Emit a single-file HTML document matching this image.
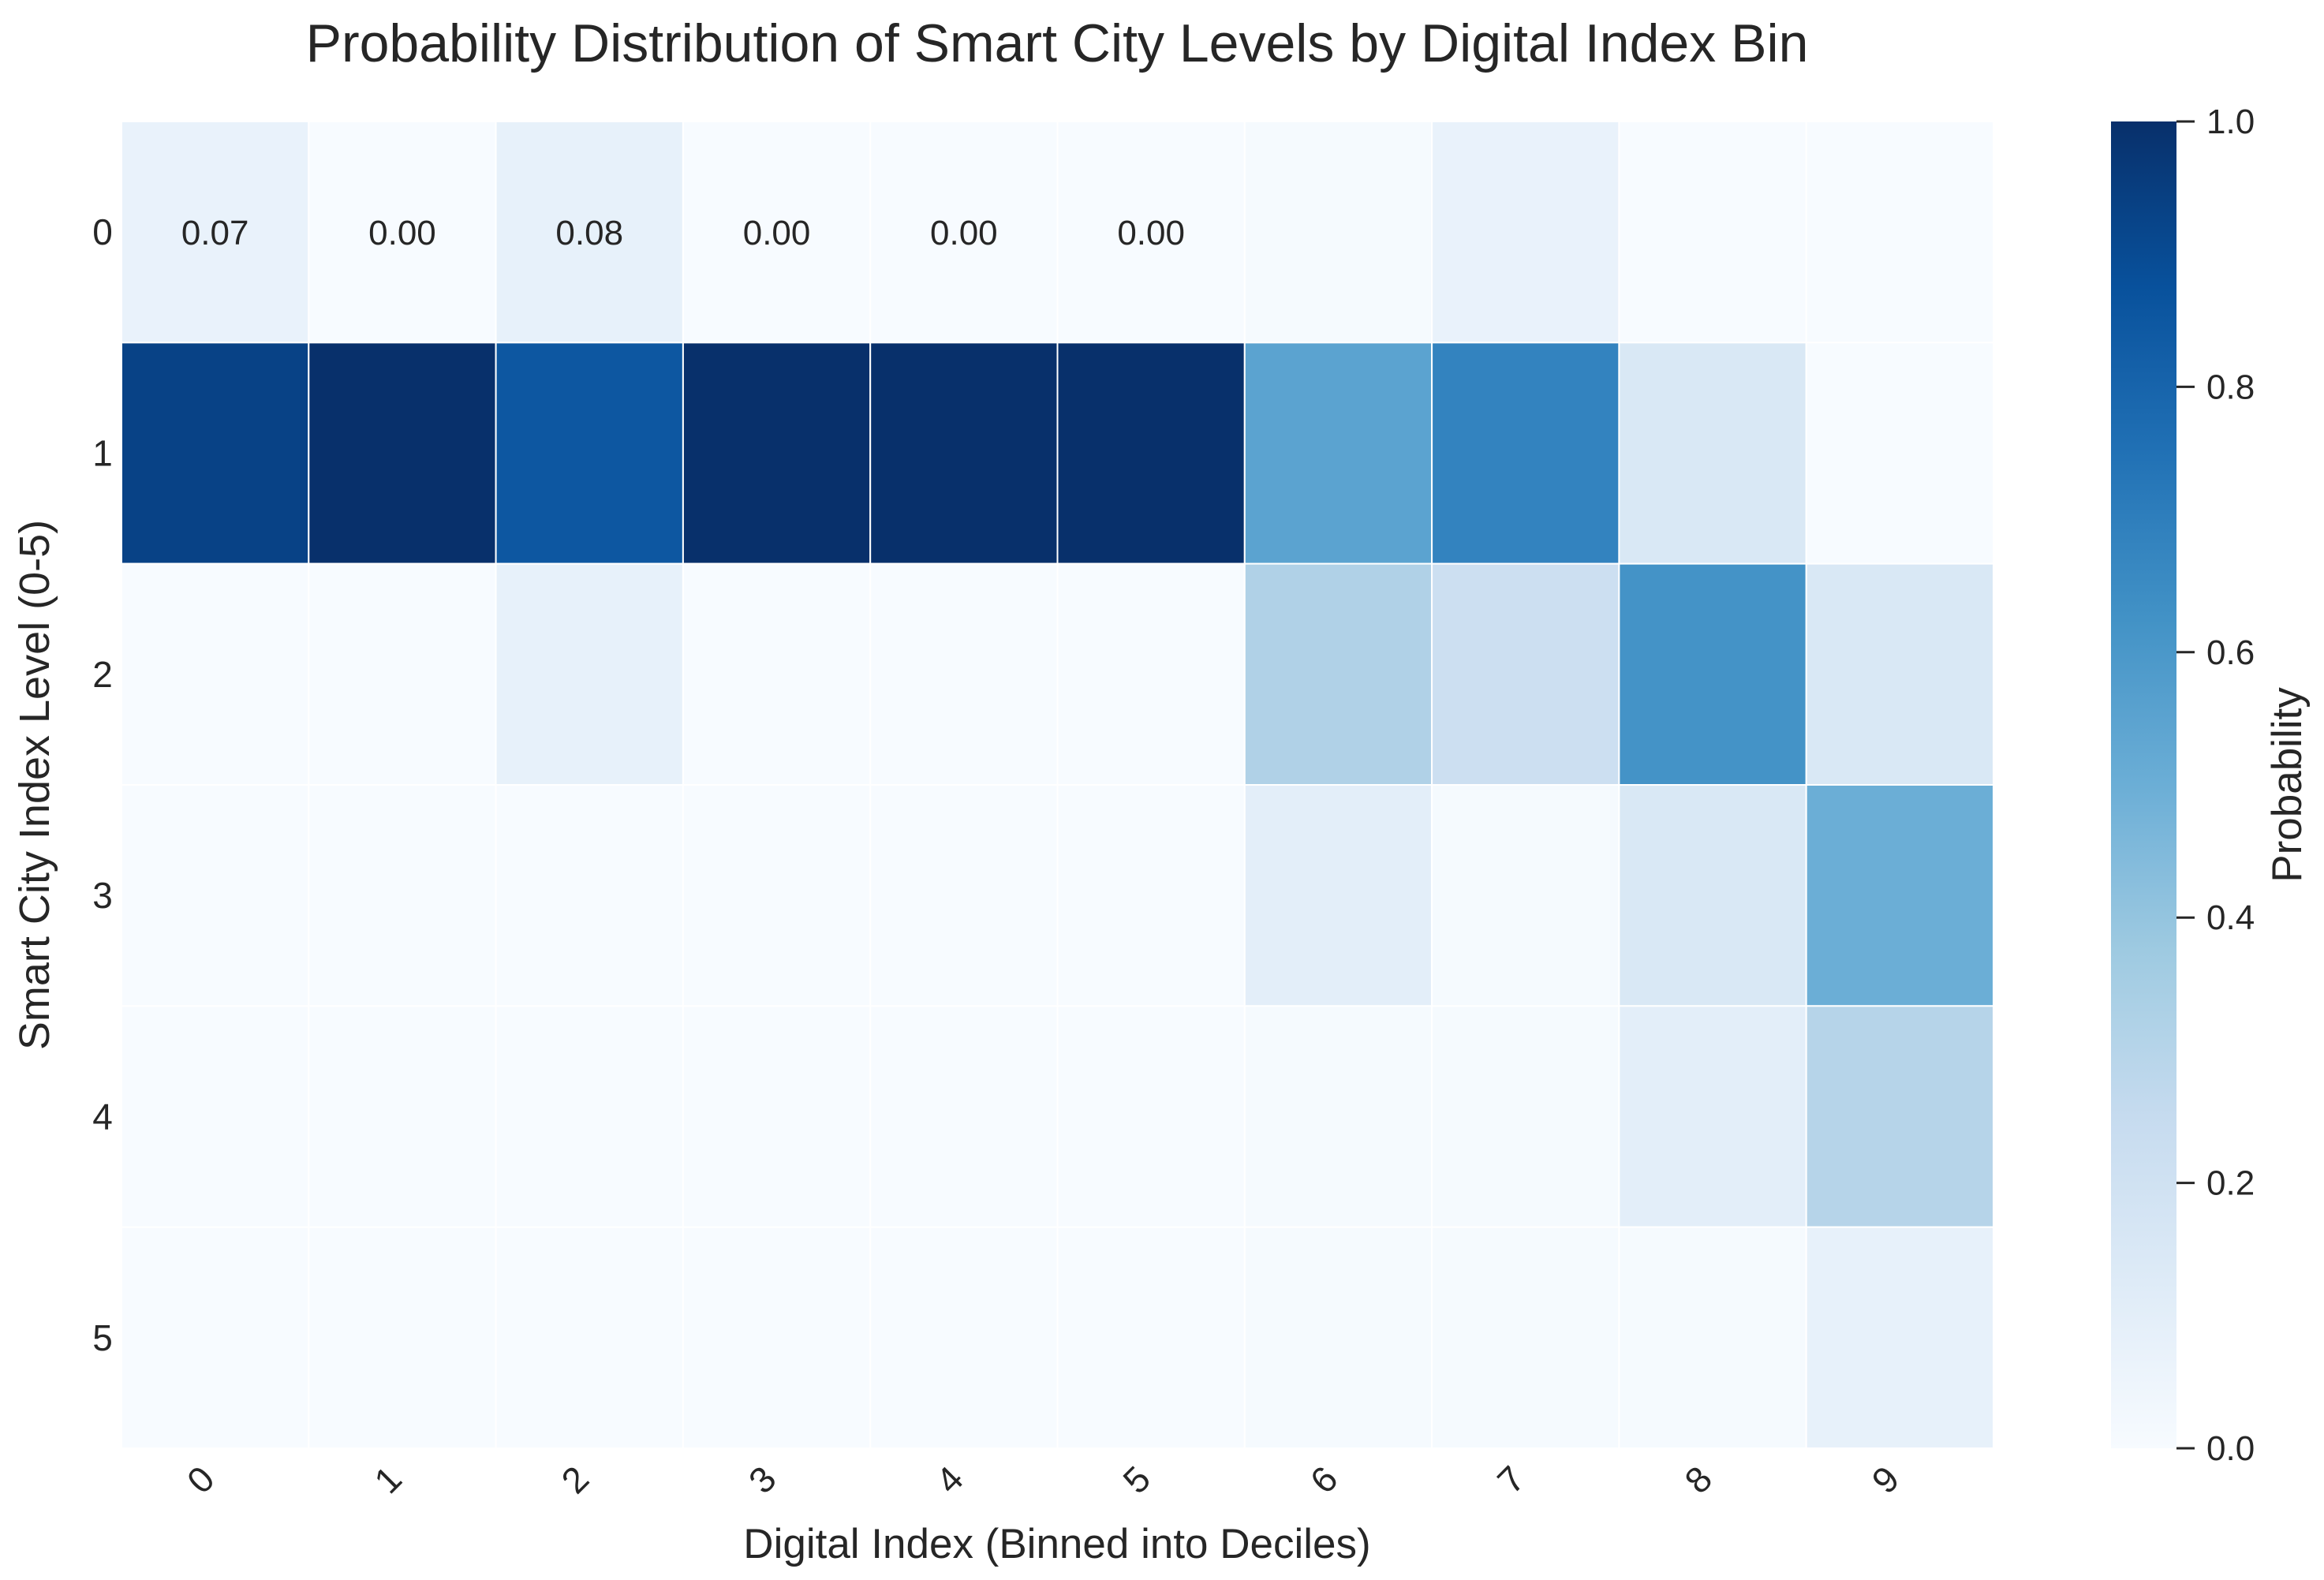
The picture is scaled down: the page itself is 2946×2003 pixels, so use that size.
<!DOCTYPE html>
<html><head><meta charset="utf-8"><style>
html,body{margin:0;padding:0;background:#fff}
svg{display:block;font-family:"Liberation Sans",Arial,sans-serif}
</style></head><body>
<svg id="chart" width="2946" height="2003" viewBox="0 0 2946 2003">
<text x="1340" y="78" font-size="68" fill="#262626" text-anchor="middle">Probability Distribution of Smart City Levels by Digital Index Bin</text>
<g id="cells"></g>
<g id="annots"></g>
<g id="xticks"></g>
<g id="yticks"></g>
<text x="1340" y="1975" font-size="53" fill="#262626" text-anchor="middle">Digital Index (Binned into Deciles)</text>
<text transform="translate(62,995) rotate(-90)" font-size="54" fill="#262626" text-anchor="middle">Smart City Index Level (0-5)</text>
<defs><linearGradient id="cbgrad" x1="0" y1="1" x2="0" y2="0"></linearGradient></defs>
<rect x="2676" y="154" width="83" height="1682" fill="url(#cbgrad)"/>
<g id="cbticks"></g>
<text transform="translate(2917,995) rotate(-90)" font-size="53" fill="#262626" text-anchor="middle">Probability</text>
</svg>
<script>
const xCategories = ["0","1","2","3","4","5","6","7","8","9"];
const yCategories = ["0","1","2","3","4","5"];
const row0 = [0.07,0.00,0.08,0.00,0.00,0.00,0.01,0.07,0.00,0.00];
const row1 = [0.93,1.00,0.85,1.00,1.00,1.00,0.55,0.68,0.15,0.00];
const row2 = [0.00,0.00,0.08,0.00,0.00,0.00,0.32,0.22,0.62,0.15];
const row3 = [0.00,0.00,0.00,0.00,0.00,0.00,0.10,0.01,0.15,0.50];
const row4 = [0.00,0.00,0.00,0.00,0.00,0.00,0.01,0.01,0.10,0.30];
const row5 = [0.00,0.00,0.00,0.00,0.00,0.00,0.01,0.01,0.01,0.08];
const annotatedCells = [[0,0],[0,1],[0,2],[0,3],[0,4],[0,5]];
const cbTicks = [0.0,0.2,0.4,0.6,0.8,1.0];
const rows = [row0,row1,row2,row3,row4,row5];

const NS="http://www.w3.org/2000/svg";
const L=154,R=2527,T=154,B=1836;
const cw=(R-L)/xCategories.length, ch=(B-T)/yCategories.length;
const xPos=i=>L+i*cw, yPos=j=>T+j*ch;
const cbY=v=>1836-v*(1836-154);
const blues=["#f7fbff","#deebf7","#c6dbef","#9ecae1","#6baed6","#4292c6","#2171b5","#08519c","#08306b"];
function hex(h){return [1,3,5].map(k=>parseInt(h.substr(k,2),16));}
function color(v){v=Math.max(0,Math.min(1,v));const p=v*8,i=Math.min(7,Math.floor(p)),f=p-i;
 const a=hex(blues[i]),b=hex(blues[i+1]);return "rgb("+a.map((c,k)=>Math.round(c+(b[k]-c)*f)).join(",")+")";}
function mk(tag,attrs,parent){const e=document.createElementNS(NS,tag);for(const k in attrs)e.setAttribute(k,attrs[k]);parent.appendChild(e);return e;}

const cells=document.getElementById('cells');
rows.forEach((row,j)=>row.forEach((v,i)=>{
 const r=mk('rect',{x:xPos(i),y:yPos(j),width:cw,height:ch,fill:color(v),stroke:'#fff','stroke-width':2},cells);
 
 
}));
const annots=document.getElementById('annots');
annotatedCells.forEach(([j,i])=>{
 const v=rows[j][i];
 const t=mk('text',{x:xPos(i)+cw/2,y:yPos(j)+ch/2+16,'font-size':44,'text-anchor':'middle',fill:v>0.5?'#fff':'#262626'},annots);
 t.textContent=v.toFixed(2);
 
 
});
const xt=document.getElementById('xticks');
xCategories.forEach((c,i)=>{
 const x=xPos(i)+cw/2+2, y=1878;
 const t=mk('text',{x:x,y:y,'font-size':46,'text-anchor':'end',fill:'#262626',transform:'rotate(-45 '+x+' '+y+')'},xt);
 t.textContent=c;
 
 
});
const yt=document.getElementById('yticks');
yCategories.forEach((c,j)=>{
 const t=mk('text',{x:130,y:yPos(j)+ch/2+16,'font-size':46,'text-anchor':'middle',fill:'#262626'},yt);
 t.textContent=c;
 
 
});
const grad=document.getElementById('cbgrad');
for(let k=0;k<=16;k++){mk('stop',{offset:(k/16),'stop-color':color(k/16)},grad);}
const cbt=document.getElementById('cbticks');
cbTicks.forEach(v=>{
 const y=cbY(v);
 const l=mk('line',{x1:2759,x2:2782,y1:y,y2:y,stroke:'#262626','stroke-width':3},cbt);
 
 
 const t=mk('text',{x:2797,y:y+15,'font-size':44,fill:'#262626'},cbt);
 t.textContent=v.toFixed(1);
 
 
});
</script>
</body></html>
